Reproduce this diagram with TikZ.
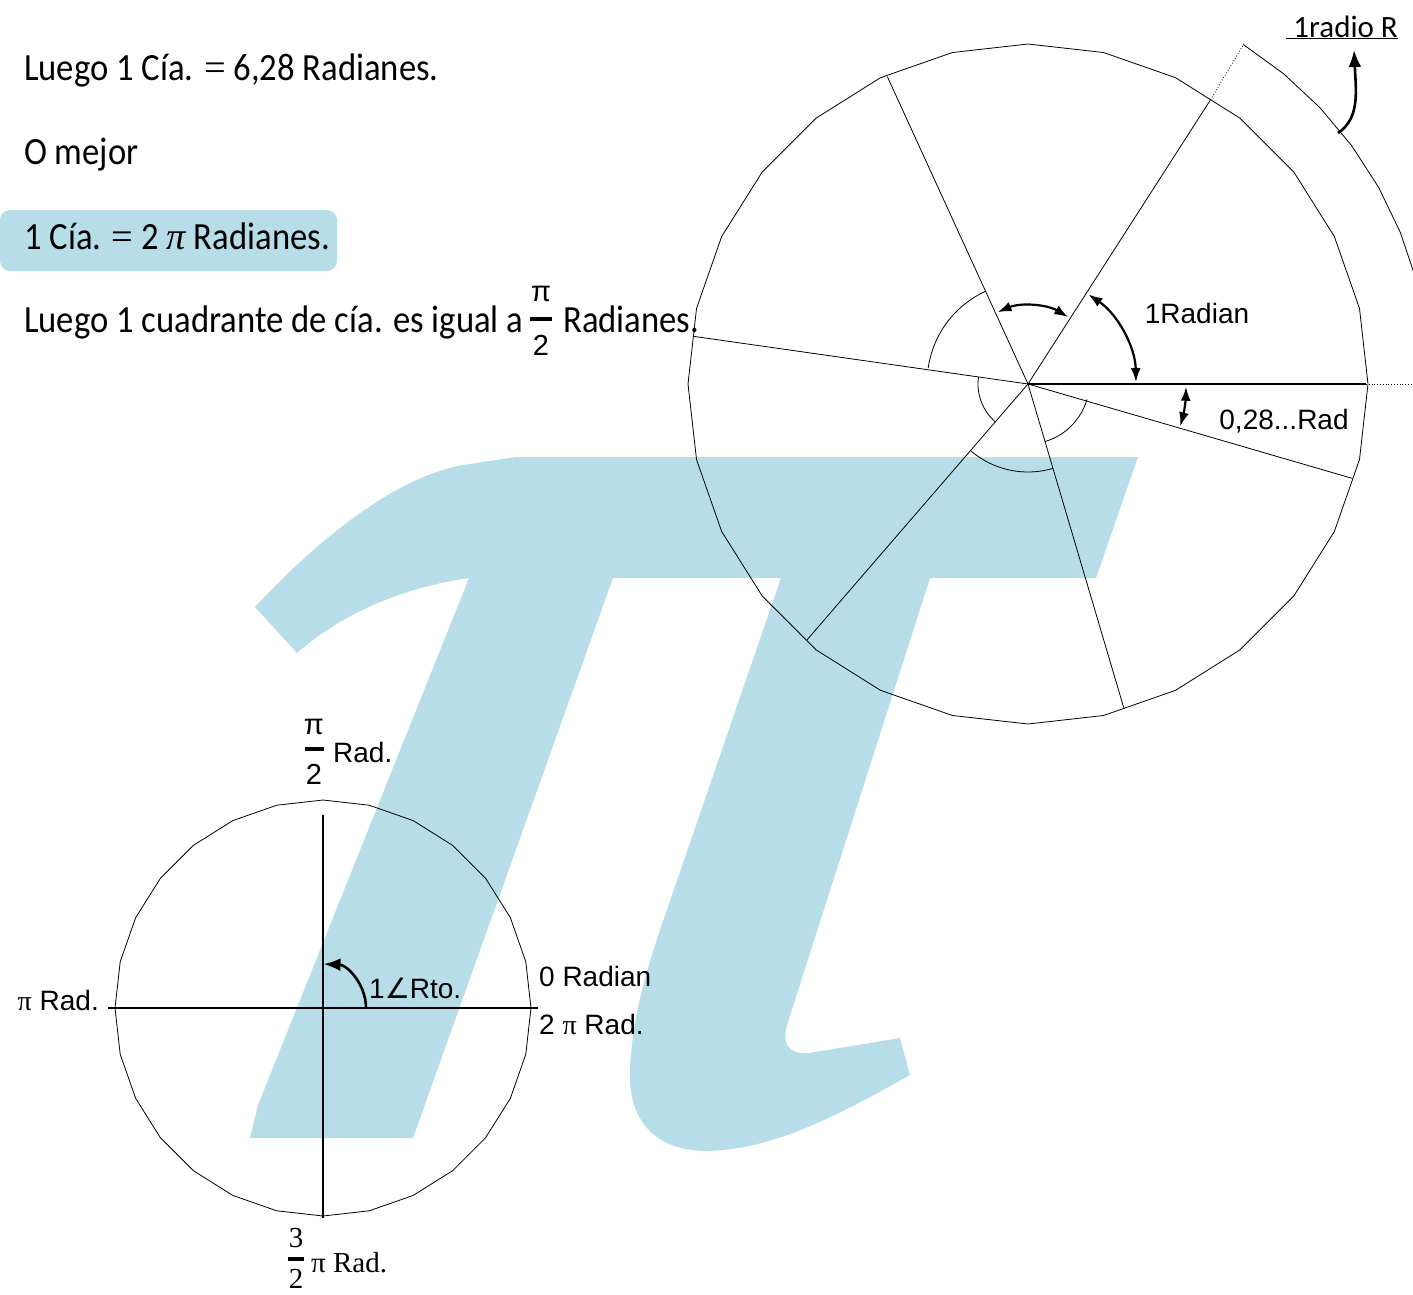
\documentclass[tikz,border=0pt]{standalone}
\usepackage{fontspec}
\setmainfont{Liberation Serif}
\newfontfamily\twc[FakeStretch=0.9]{Carlito}
\newfontfamily\twcb{Carlito}
\newfontfamily\arl{Liberation Sans}
\newfontfamily\djv{DejaVu Sans}
\usetikzlibrary{arrows.meta}
\definecolor{piblue}{RGB}{183,222,232}
\tikzset{
  txt/.style={font=\twc\fontsize{38.5}{42}\selectfont, inner sep=0pt, anchor=base west},
  lab/.style={font=\arl\fontsize{28}{32}\selectfont, inner sep=0pt},
  fracnum/.style={font=\arl\fontsize{29}{32}\selectfont, inner sep=0pt},
  thinline/.style={line width=0.8pt},
  axis/.style={line width=1.5pt},
  dbl/.style={line width=2.2pt, {Latex[length=14pt,width=10pt]}-{Latex[length=14pt,width=10pt]}},
  sgl/.style={line width=2.6pt, -{Latex[length=17pt,width=13pt]}},
  fracbar/.style={line width=3.8pt}
}
\begin{document}
\begin{tikzpicture}[x=1pt,y=-1pt]
\useasboundingbox (0,0) rectangle (1413,1294);

% big pi in background
\fill[piblue] (516,457) -- (1138,457) -- (1096,578) -- (930,578) -- (787,1025)
  .. controls (780,1050) and (795,1056) .. (815,1052) -- (900,1038) -- (910,1075)
  .. controls (830,1120) and (770,1150) .. (705,1151)
  .. controls (650,1150) and (628,1115) .. (630,1070)
  .. controls (632,1020) and (645,975) .. (660,930) -- (781,578) -- (613,578)
  -- (413,1138) -- (250,1138) -- (258,1105) -- (469,578)
  .. controls (400,588) and (340,615) .. (297,653) -- (255,607)
  .. controls (310,548) and (390,478) .. (463,465) -- cycle;

% highlight box
\fill[piblue, rounded corners=10pt] (0,210) rectangle (337,271);

% left text
\node[txt] (t1) at (24,80) {Luego 1 Cía. {\rmfamily =} 6,28 Radianes.};
\node[txt] (t2) at (24,164) {O mejor};
\node[txt] (t3) at (24,249) {1 Cía. {\rmfamily =} 2 {\rmfamily\itshape π} Radianes.};
\node[txt] (t4) at (24,332) {Luego 1 cuadrante de cía. es igual a};
\node[fracnum] (t4n) at (541,294) {π};
\node[fracnum] (t4d) at (541,345) {2};
\draw[fracbar] (530,319) coordinate (t4a) -- (552,319) coordinate (t4b);
\node[txt] (t5) at (563,332) {Radianes.};

% big circle
\begin{scope}[shift={(1028,384)}, yscale=-1]
  \coordinate (C) at (0,0);
  \foreach \k in {1,...,6} \coordinate (R\k) at ({\k*57.2958}:338);
  \coordinate (R0) at (0:338);
  \draw[thinline] plot[samples=29, domain=0:360] (\x:340) -- cycle;
  \draw[axis] (C) -- (R0);
  \foreach \k in {1,...,6} \draw[thinline] (C) -- (R\k);
  \coordinate (P1) at (57.6:403);
  \coordinate (P0) at (0:400);
  \draw[thinline, dotted] (R1) -- (P1);
  \draw[thinline, dotted] (R0) -- (P0);
  \draw[thinline] plot[samples=8, domain=57.6:8] (\x:402);
  % small arcs
  \draw[thinline] (114.6:102) arc[start angle=114.6, end angle=171.9, radius=100];
  \draw[thinline] (171.9:50) arc[start angle=171.9, end angle=229.2, radius=50];
  \draw[thinline] (229.2:88) arc[start angle=229.2, end angle=286.5, radius=88];
  \draw[thinline] (286.5:60) arc[start angle=286.5, end angle=343.8, radius=62];
  % arrows
  \draw[dbl] (1:108) arc[start angle=1, end angle=56, radius=108];
  \draw[dbl] (59:78) arc[start angle=59, end angle=113, radius=78];
  \draw[dbl] (-1:158) arc[start angle=-1, end angle=-15.5, radius=158];
\end{scope}

\node[lab] (l1) at (1197,313) {1Radian};
\node[lab] (l2) at (1284,421) {0,28...Rad};
\node[font=\twcb\fontsize{31}{34}\selectfont, inner sep=0pt, anchor=base east] (rr) at (1398,37) {\underline{\ 1radio R}};
\coordinate (rrA) at (1354,50);
\draw[sgl] (1338,133) .. controls (1360,118) and (1356,92) .. (rrA);

% small circle
\begin{scope}[shift={(323,1008)}, yscale=-1]
  \coordinate (S) at (0,0);
  \draw[thinline] plot[samples=29, domain=0:360] (\x:208) -- cycle;
  \coordinate (SL) at (-215,0);
  \coordinate (SRR) at (215,0);
  \coordinate (ST) at (0,193);
  \coordinate (SB) at (0,-210);
  \draw[axis] (SL) -- (SRR);
  \draw[axis] (ST) -- (SB);
  \draw[sgl] (0:43) arc[start angle=0, end angle=88, radius=44];
\end{scope}

\node[lab, anchor=west] (a1) at (369,988) {1{\djv ∠}Rto.};
\node[lab, anchor=west] (a2) at (539,976) {0 Radian};
\node[lab, anchor=west] (a3) at (539,1024) {2 {\rmfamily π} Rad.};
\node[lab, anchor=east] (a4) at (99,1000) {{\rmfamily π} Rad.};

\node[fracnum] (b1n) at (314,727) {π};
\draw[fracbar] (305,749) coordinate (b1a) -- (324,749) coordinate (b1b);
\node[fracnum] (b1d) at (314,774) {2};
\node[lab, anchor=west] (b1) at (333,752) {Rad.};

\node[font=\rmfamily\fontsize{29}{32}\selectfont, inner sep=0pt] (c1n) at (296,1238) {3};
\draw[fracbar] (288,1259) coordinate (c1a) -- (304,1259) coordinate (c1b);
\node[font=\rmfamily\fontsize{29}{32}\selectfont, inner sep=0pt] (c1d) at (296,1279) {2};
\node[font=\rmfamily\fontsize{29}{32}\selectfont, inner sep=0pt, anchor=west] (c1) at (311,1263) {π Rad.};
\end{tikzpicture}
\end{document}
